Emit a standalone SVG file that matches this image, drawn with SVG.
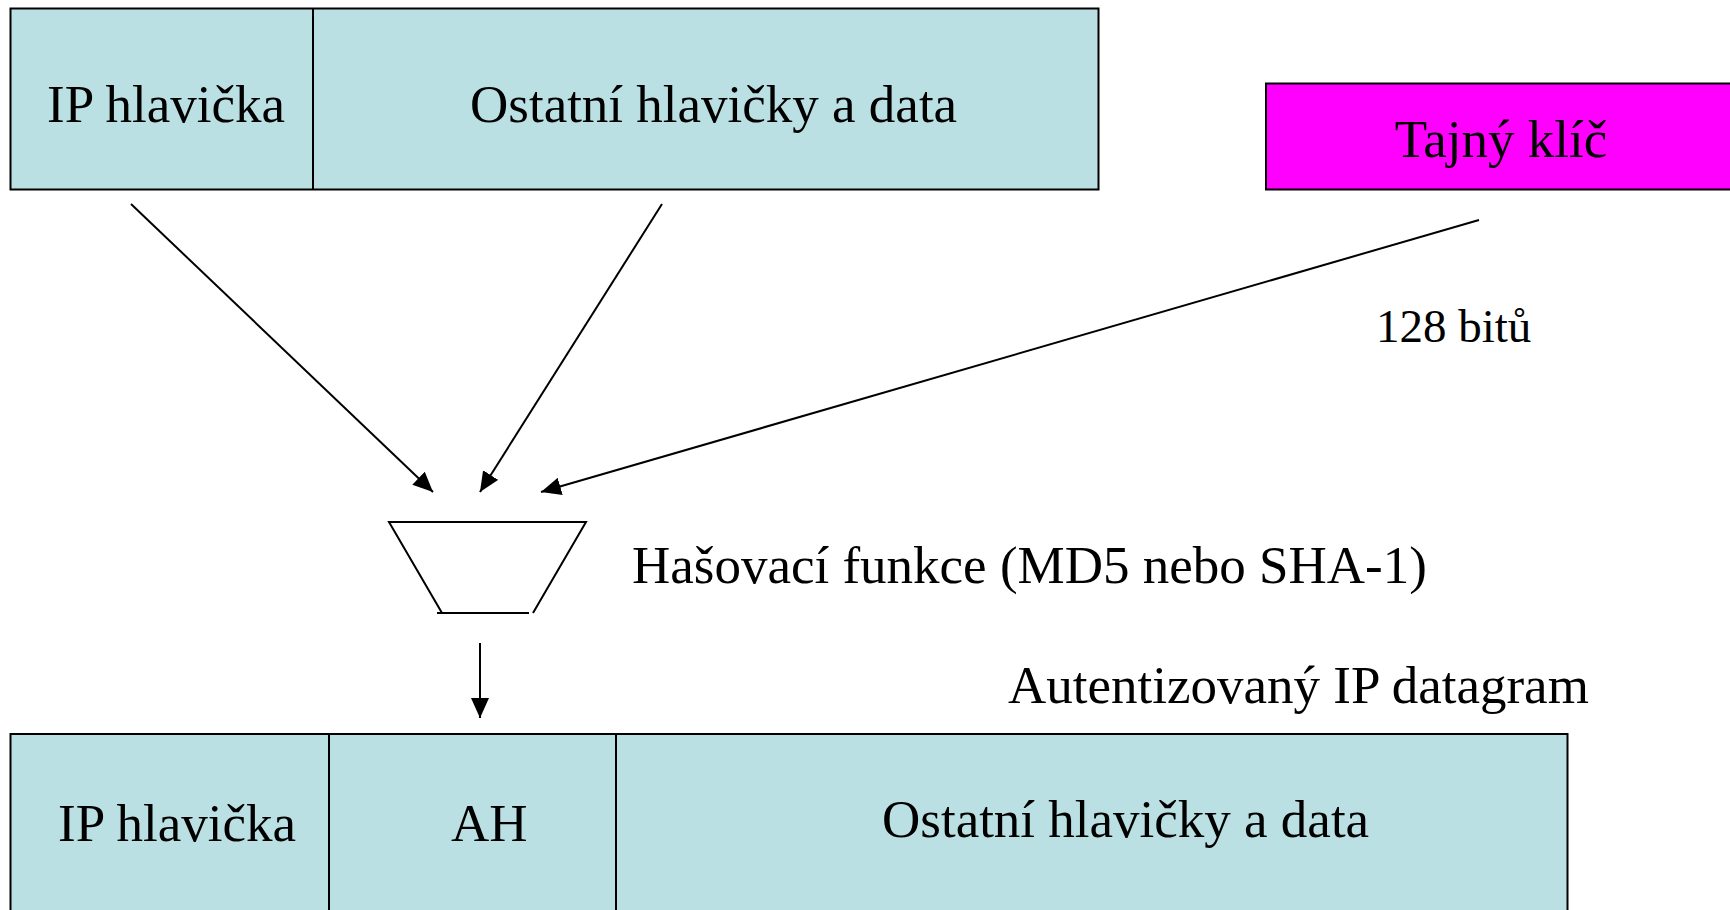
<svg xmlns="http://www.w3.org/2000/svg" width="1730" height="910" viewBox="0 0 1730 910">
<defs>
<style>
.box{fill:#BAE0E3;stroke:#000;stroke-width:2}
.key{fill:#FF00FF;stroke:#000;stroke-width:2}
.div{stroke:#000;stroke-width:2}
.t{font-family:"Liberation Serif","Times New Roman",serif;font-size:53px;fill:#000}
.s{font-family:"Liberation Serif","Times New Roman",serif;font-size:47px;fill:#000}
.c{stroke:#000;stroke-width:2;fill:none}
</style>
<marker id="ah" markerUnits="userSpaceOnUse" markerWidth="20" markerHeight="18" viewBox="0 0 20 18" refX="20" refY="9" orient="auto">
<path d="M0,0 L20,9 L0,18 Z" fill="#000"/>
</marker>
</defs>
<rect width="1730" height="910" fill="#fff"/>
<g id="original-packet">
<rect class="box" x="10.5" y="8.5" width="1088" height="181"/>
<line class="div" x1="313" y1="8.5" x2="313" y2="189.5"/>
<text class="t" x="47" y="122">IP hlavička</text>
<text class="t" x="470" y="122">Ostatní hlavičky a data</text>
</g>
<g id="secret-key">
<rect class="key" x="1266" y="83.5" width="500" height="106"/>
<text class="t" x="1501" y="157" text-anchor="middle">Tajný klíč</text>
</g>
<g id="key-size-label">
<text class="s" x="1376" y="342">128 bitů</text>
</g>
<g id="hash-function">
<polyline class="c" points="442,613 389,522 586,522 533,613"/>
<line class="c" x1="437" y1="613" x2="529" y2="613"/>
<text class="t" x="632" y="583">Hašovací funkce (MD5 nebo SHA-1)</text>
</g>
<g id="result-label">
<text class="t" x="1008" y="703">Autentizovaný IP datagram</text>
</g>
<g id="authenticated-packet">
<rect class="box" x="10.5" y="734" width="1557" height="200"/>
<line class="div" x1="329" y1="734" x2="329" y2="910"/>
<line class="div" x1="616" y1="734" x2="616" y2="910"/>
<text class="t" x="58" y="841">IP hlavička</text>
<text class="t" x="451" y="841">AH</text>
<text class="t" x="882" y="837">Ostatní hlavičky a data</text>
</g>
<g id="connectors">
<line class="c" x1="131" y1="204" x2="433" y2="492" marker-end="url(#ah)"/>
<line class="c" x1="662" y1="204" x2="480" y2="492" marker-end="url(#ah)"/>
<line class="c" x1="1479" y1="220" x2="541" y2="492" marker-end="url(#ah)"/>
<line class="c" x1="480" y1="643" x2="480" y2="718" marker-end="url(#ah)"/>
</g>
</svg>
